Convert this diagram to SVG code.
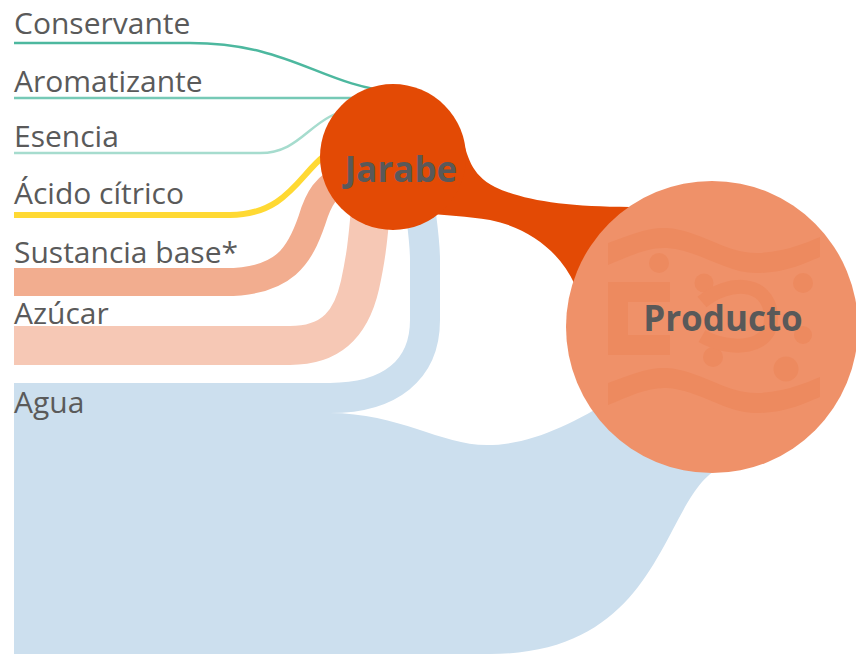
<svg xmlns="http://www.w3.org/2000/svg" width="856" height="654" viewBox="0 0 856 654">
<style>
.lbl{font-family:"Open Sans","Liberation Sans",sans-serif;font-size:30px;fill:#5a5a5a}
.node{font-family:"Open Sans","Liberation Sans",sans-serif;font-size:35px;font-weight:700;fill:#595959;text-anchor:middle}
.band{fill:none;stroke-linecap:butt}
.ico{fill:#ED8A5F}
</style>
<rect width="856" height="654" fill="#ffffff"/>
<g id="connectors">
  <path id="l-agua-producto" d="M14,413 H329 C400,413 440,445 487,445 C530,445 570,425 615,398 L725,465 C660,490 670,654 490,654 H14 Z" fill="#CCDFEE"/>
  <path id="l-agua" class="band" d="M14,398 H330 C390,398 425,370 425,320 L425,260 C425,240 422,225 418,190" stroke="#CCDFEE" stroke-width="30"/>
  <path id="l-azucar" class="band" d="M14,345.5 H290 C335,345.5 352,320 360,285 C365,262 368,245 372,190" stroke="#F6C8B5" stroke-width="39"/>
  <path id="l-sustancia" class="band" d="M14,282 H225 C285,282 300,255 312,220 C318,200 325,185 350,175" stroke="#F2AD8F" stroke-width="28"/>
  <path id="l-acido" class="band" d="M14,215 H230 C300,215 305,150 345,148 H395" stroke="#FFD933" stroke-width="6"/>
  <path id="l-esencia" class="band" d="M14,153 H260 C305,153 310,112 360,108 H395" stroke="#A6DCCE" stroke-width="2.5"/>
  <path id="l-aromatizante" class="band" d="M14,98 H395" stroke="#76C9B6" stroke-width="2.5"/>
  <path id="l-conservante" class="band" d="M14,43 H190 C290,43 320,85 395,92" stroke="#4DB89F" stroke-width="2.5"/>
  <path id="l-jarabe-producto" d="M430,140 L461,134 C468,156 470,174 495,187 C522,200 565,207 630,207 L645,230 L615,300 L575,285 C560,252 530,228 490,220 C468,216 445,216 420,212 Z" fill="#E34A05"/>
</g>
<g id="node-jarabe">
  <circle cx="393" cy="157" r="73" fill="#E34A05"/>
  <text class="node" x="401" y="182">Jarabe</text>
</g>
<g id="node-producto">
  <circle cx="712" cy="327" r="146" fill="#EF9169"/>
  <g id="producto-icon" class="ico">
    <path id="wave" d="M608,243 C630,235 648,227 667,228 C700,230 728,255 760,253 C788,251 805,243 820,237 V257 C805,263 788,272 760,273 C728,275 700,250 667,248 C648,247 630,256 608,265 Z"/>
    <use href="#wave" transform="translate(0,140)"/>
    <path d="M608,282 H670 V302 H628 V335 H670 V355 H608 Z"/>
    <circle cx="659" cy="263" r="10"/>
    <circle cx="704" cy="283" r="9.5"/>
    <circle cx="803" cy="283" r="10"/>
    <circle cx="713" cy="357" r="10"/>
    <circle cx="786" cy="369" r="12.5"/>
    <circle cx="803" cy="335" r="9"/>
    <path d="M702,302 C728,280 768,280 771,315 C774,350 730,352 702,336" fill="none" stroke="#ED8A5F" stroke-width="14"/>
  </g>
  <text class="node" x="723" y="331">Producto</text>
</g>
<g id="labels">
  <text class="lbl" x="14" y="34">Conservante</text>
  <text class="lbl" x="14" y="92">Aromatizante</text>
  <text class="lbl" x="14" y="147">Esencia</text>
  <text class="lbl" x="14" y="204">Ácido cítrico</text>
  <text class="lbl" x="14" y="263">Sustancia base*</text>
  <text class="lbl" x="14" y="324">Azúcar</text>
  <text class="lbl" x="14" y="413">Agua</text>
</g>
</svg>
